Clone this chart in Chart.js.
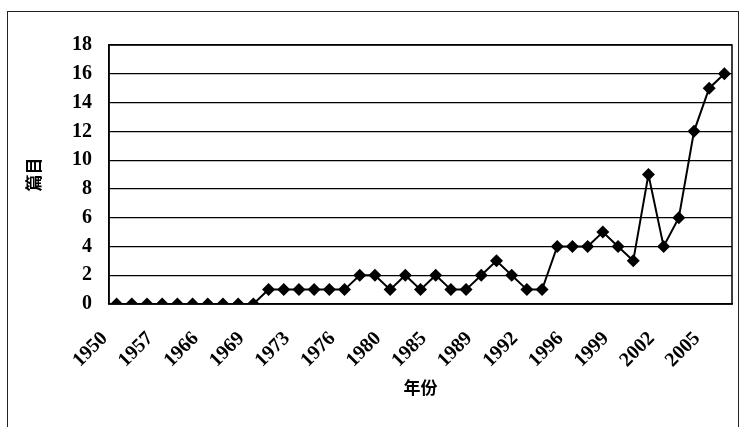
<!DOCTYPE html>
<html>
<head>
<meta charset="utf-8">
<script src="https://cdn.jsdelivr.net/npm/chart.js@4"></script>
<style>
  html, body { margin: 0; padding: 0; background: #fff; }
  #wrap { position: relative; width: 744px; height: 427px; overflow: hidden; }
  #frame { position: absolute; left: 7px; top: 11px; width: 730px; height: 430px; border: 1px solid #222; }
  canvas { position: absolute; left: 0; top: 0; }
</style>
</head>
<body>
<div id="wrap">
  <div id="frame"></div>
  <canvas id="chart" width="744" height="427"></canvas>
</div>
<script>
// years (only every third one is labelled in the source)
const years = [
    1950, 1953, 1955, 1957, 1960, 1963, 1966, 1967, 1968, 1969,
    1970, 1972, 1973, 1974, 1975, 1976, 1978, 1979, 1980, 1982,
    1984, 1985, 1986, 1988, 1989, 1990, 1991, 1992, 1994, 1995,
    1996, 1997, 1998, 1999, 2000, 2001, 2002, 2003, 2004, 2005, 2006
];
const counts = [
    0, 0, 0, 0, 0, 0, 0, 0, 0, 0,
    1, 1, 1, 1, 1, 1, 2, 2, 1, 2,
    1, 2, 1, 1, 2, 3, 2, 1, 1, 4,
    4, 4, 5, 4, 3, 9, 4, 6, 12, 15, 16
];
const yTicks = [0, 2, 4, 6, 8, 10, 12, 14, 16, 18];

const serif = 'Liberation Serif, Times New Roman, serif';
const cjk = 'Noto Sans CJK SC, sans-serif';

// plot frame (top and right edges)
const frameBox = {
    id: 'frameBox',
    afterDraw(chart) {
        const a = chart.chartArea;
        const c = chart.ctx;
        c.save();
        c.strokeStyle = '#000';
        c.lineWidth = 1.5;
        c.strokeRect(a.left, a.top, a.right - a.left, a.bottom - a.top);
        c.restore();
    }
};

const ctx = document.getElementById('chart').getContext('2d');
new Chart(ctx, {
    type: 'line',
    data: {
        labels: years.map(String),
        datasets: [{
            label: '篇目',
            data: counts,
            borderColor: '#000',
            backgroundColor: '#000',
            borderWidth: 2,
            pointStyle: 'rectRot',
            pointRadius: 6.5,
            pointBorderWidth: 0,
            fill: false,
            tension: 0
        }]
    },
    options: {
        responsive: false,
        animation: false,
        layout: { padding: { top: 45, right: 12, left: 0, bottom: 0 } },
        plugins: {
            legend: { display: false },
            tooltip: { enabled: false }
        },
        scales: {
            x: {
                offset: true,
                grid: { display: false },
                border: { color: '#000', width: 1.5 },
                afterFit: s => { s.height = 123; s.paddingRight = 0; s.paddingLeft = 0; },
                ticks: {
                    autoSkip: false,
                    minRotation: 45,
                    maxRotation: 45,
                    padding: 15,
                    labelOffset: -12,
                    color: '#000',
                    font: { family: serif, size: 20, weight: 'bold' },
                    callback: (v, i) => (i % 3 === 0 && i < 40) ? years[i] : ''
                },
                title: {
                    display: true,
                    text: '年份',
                    color: '#000',
                    font: { family: cjk, size: 17, weight: 'bold' },
                    padding: { top: 0, bottom: 29 }
                }
            },
            y: {
                min: 0,
                max: 18,
                afterFit: s => { s.width = 109; },
                afterBuildTicks: s => { s.ticks = yTicks.map(v => ({ value: v })); },
                grid: { color: '#000', lineWidth: 1.2, drawTicks: false },
                border: { color: '#000', width: 1.5 },
                ticks: {
                    padding: 17,
                    color: '#000',
                    font: { family: serif, size: 20, weight: 'bold' }
                },
                title: {
                    display: true,
                    text: '篇目',
                    color: '#000',
                    font: { family: cjk, size: 17, weight: 'bold' },
                    padding: { top: 23, bottom: 0 }
                }
            }
        }
    },
    plugins: [frameBox]
});
</script>
</body>
</html>
